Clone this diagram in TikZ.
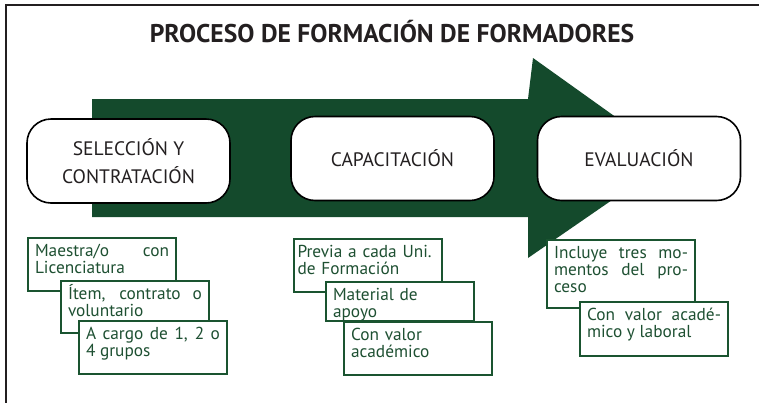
\documentclass[tikz,border=0pt]{standalone}
\usepackage{fontspec}
\setmainfont{PT Sans}
\usepackage{tikz}
\usetikzlibrary{positioning}
\definecolor{arrowgreen}{RGB}{20,74,44}
\definecolor{boxgreen}{RGB}{26,84,48}
\definecolor{textgreen}{RGB}{30,80,50}
\definecolor{titlegray}{RGB}{35,31,32}

\begin{document}
\begin{tikzpicture}[x=1pt,y=-1pt,
  stage/.style={draw=black,line width=1.6pt,fill=white,rounded corners=24pt,
    minimum width=203pt,minimum height=84pt,align=center,text=titlegray,
    font=\fontsize{19.5}{28}\selectfont},
  note/.style={draw=boxgreen,line width=2pt,fill=white,text=textgreen,
    anchor=north west,text width=134pt,inner xsep=7pt,inner ysep=6pt,
    text height=12.5pt,text depth=#1,align=justify,
    font=\fontsize{17.3}{16.8}\selectfont}]
  \useasboundingbox (0,0) rectangle (759,402);
  \draw[titlegray,line width=2pt] (6,410) -- (6,5) -- (770,5);
  \node[font=\bfseries\fontsize{25.6}{30}\selectfont,text=titlegray] (title) at (392,32) {PROCESO DE FORMACIÓN DE FORMADORES};
  % big arrow behind the stages
  \fill[arrowgreen] (92,99) -- (528,99) -- (533,58) -- (673,158) -- (528,258) -- (528,217) -- (92,217) -- cycle;
  \node[stage] (sel) at (128.5,161) {SELECCIÓN Y\\CONTRATACIÓN};
  \node[stage] (cap) at (392.5,158.5) {CAPACITACIÓN};
  \node[stage] (eva) at (639,158.5) {EVALUACIÓN};
  % notes under each stage
  \node[note=28.5pt] (sel1) at (27,237) {Maestra/o con\linebreak Licenciatura};
  \node[note=27.5pt] (sel2) at (60,280) {Ítem, contrato o\linebreak voluntario};
  \node[note=28.5pt] (sel3) at (78,320) {A cargo de 1, 2 o\linebreak 4 grupos};
  \node[note=28.5pt,align=left,text width=141pt,inner xsep=3.5pt] (cap1) at (293,238) {Previa a cada Uni.\\de Formación};
  \node[note=14.5pt,align=left] (cap2) at (325,281) {Material de\\apoyo};
  \node[note=28.5pt,align=left] (cap3) at (343,321) {Con valor\\académico};
  \node[note=43.5pt] (eva1) at (546,239) {Incluye tres mo-\linebreak mentos del pro-\linebreak ceso};
  \node[note=29.5pt] (eva2) at (579,301) {Con valor acadé-\linebreak mico y laboral};
\end{tikzpicture}
\end{document}
